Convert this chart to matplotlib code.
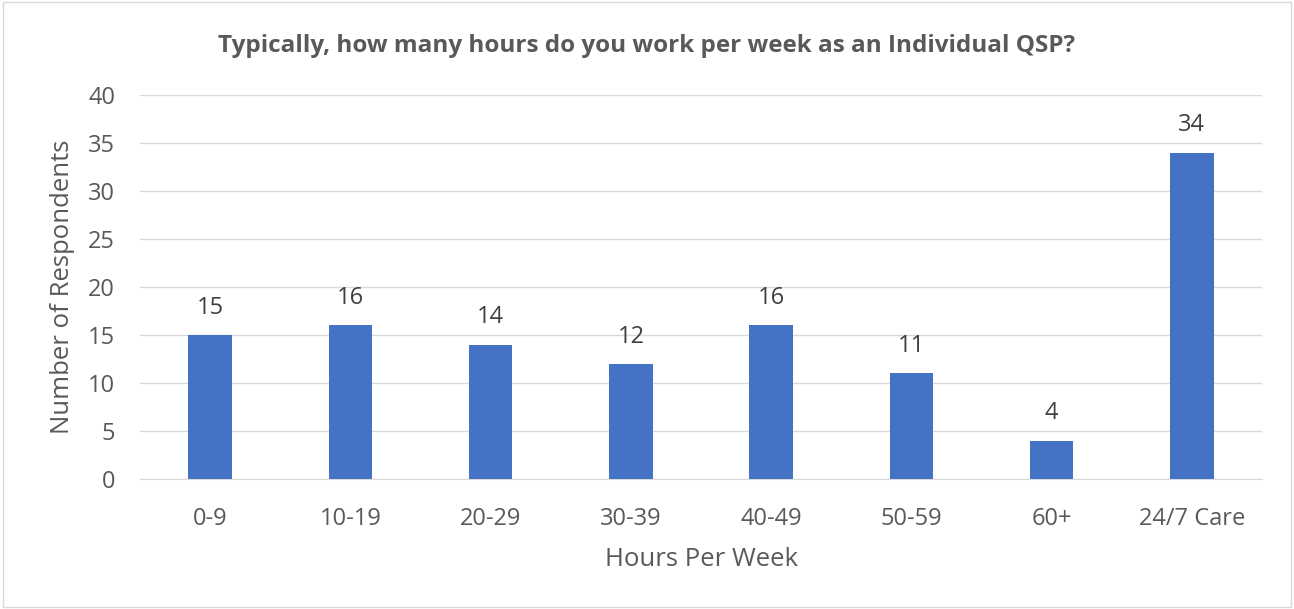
import matplotlib.pyplot as plt
from matplotlib.patches import Rectangle

# Data
categories = ["0-9", "10-19", "20-29", "30-39", "40-49", "50-59", "60+", "24/7 Care"]
respondents = [15, 16, 14, 12, 16, 11, 4, 34]
yticks = [0, 5, 10, 15, 20, 25, 30, 35, 40]

plt.rcParams['font.family'] = ['Open Sans', 'DejaVu Sans']

fig = plt.figure(figsize=(12.94, 6.09), dpi=100)
ax = fig.add_axes([0.1082, 0.2135, 0.8671, 0.6305])

bars = ax.bar(categories, respondents, width=0.31, color="#4472C4", zorder=3)
for b, v in zip(bars, respondents):
    ax.annotate(str(v), (b.get_x() + b.get_width() / 2, v), xytext=(0, 11),
                textcoords="offset points", ha="center", va="bottom",
                fontsize=17, color="#404040")

ax.set_ylim(0, 40)
ax.set_xlim(-0.5, len(categories) - 0.5)
ax.set_yticks(yticks)
ax.grid(axis="y", color="#D9D9D9", linewidth=1, zorder=0)
for s in ["top", "right", "left"]:
    ax.spines[s].set_visible(False)
ax.spines["bottom"].set_color("#D9D9D9")
ax.tick_params(axis="both", length=0, labelsize=17, colors="#595959")
ax.tick_params(axis="x", pad=20)
ax.tick_params(axis="y", pad=18)

ax.set_xlabel("Hours Per Week", fontsize=18.5, color="#595959", labelpad=12)
ax.set_ylabel("Number of Respondents", fontsize=18.5, color="#595959", labelpad=9)

fig.text(0.5, 0.925, "Typically, how many hours do you work per week as an Individual QSP?",
         ha="center", va="center", fontsize=17.5, fontweight="bold", color="#595959")

# light outer border like the chart area frame
fig.patches.append(Rectangle((0.002, 0.003), 0.996, 0.994, transform=fig.transFigure,
                             fill=False, edgecolor="#D9D9D9", linewidth=1))

fig.savefig("out.png", dpi=100)
